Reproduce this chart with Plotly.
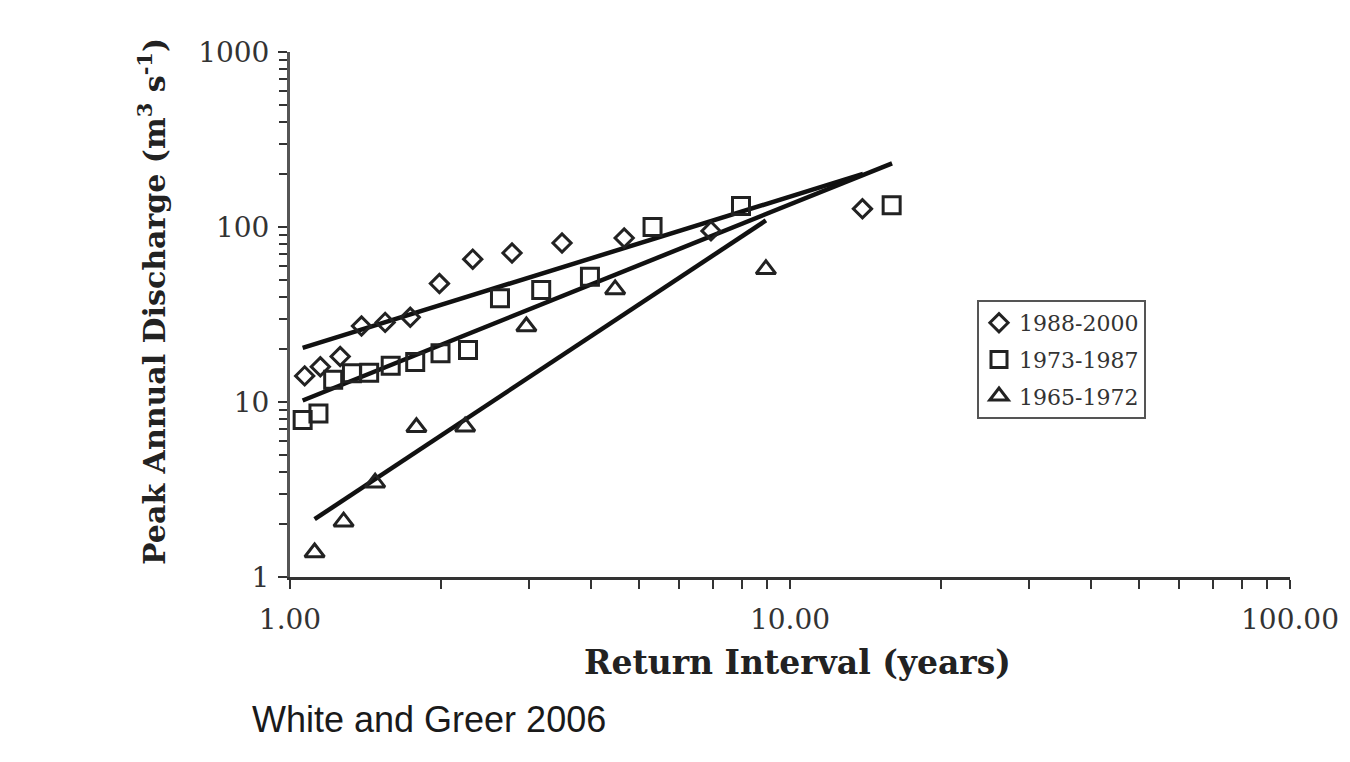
import plotly.graph_objects as go

# Return interval (years) and peak annual discharge (m3/s) by period
ri_1988_2000 = [1.07, 1.15, 1.26, 1.39, 1.55, 1.74, 1.99, 2.32, 2.78, 3.50, 4.66, 6.95, 13.96]
q_1988_2000 = [14.1, 15.9, 18.2, 27.2, 28.5, 30.5, 47.5, 65.5, 71.0, 81.0, 86.5, 95.0, 127.0]

ri_1973_1987 = [1.06, 1.14, 1.22, 1.33, 1.44, 1.59, 1.78, 2.00, 2.27, 2.63, 3.18, 3.98, 5.31, 7.98, 15.97]
q_1973_1987 = [7.9, 8.6, 13.4, 14.6, 14.7, 16.1, 16.9, 19.0, 19.8, 39.1, 43.6, 52.0, 100.0, 132.0, 133.0]

ri_1965_1972 = [1.12, 1.28, 1.48, 1.79, 2.24, 2.97, 4.47, 8.95]
q_1965_1972 = [1.38, 2.07, 3.46, 7.17, 7.23, 27.0, 44.0, 57.3]

# Power-law trend line end points for each period
fit_ri_1988_2000 = [1.06, 14.0]
fit_q_1988_2000 = [20.4, 201.0]
fit_ri_1973_1987 = [1.06, 16.0]
fit_q_1973_1987 = [10.2, 231.0]
fit_ri_1965_1972 = [1.12, 8.95]
fit_q_1965_1972 = [2.14, 109.0]

x_tick_vals = [1, 10, 100]
x_tick_text = ["1.00", "10.00", "100.00"]
y_tick_vals = [1, 10, 100, 1000]
y_tick_text = ["1", "10", "100", "1000"]

INK = "#222222"
SERIF = "DejaVu Serif"

fig = go.Figure()

for fx, fy in [(fit_ri_1988_2000, fit_q_1988_2000),
               (fit_ri_1973_1987, fit_q_1973_1987),
               (fit_ri_1965_1972, fit_q_1965_1972)]:
    fig.add_trace(go.Scatter(x=fx, y=fy, mode="lines",
                             line=dict(color="#111111", width=4.5),
                             showlegend=False, hoverinfo="skip"))

fig.add_trace(go.Scatter(x=ri_1988_2000, y=q_1988_2000, mode="markers", name="1988-2000",
                         legendgroup="a",
                         marker=dict(symbol="diamond-open", size=14, color=INK,
                                     line=dict(width=3, color=INK))))
fig.add_trace(go.Scatter(x=ri_1973_1987, y=q_1973_1987, mode="markers", name="1973-1987",
                         legendgroup="b",
                         marker=dict(symbol="square-open", size=17, color=INK,
                                     line=dict(width=3, color=INK))))
fig.add_trace(go.Scatter(x=ri_1965_1972, y=q_1965_1972, mode="markers", name="1965-1972",
                         legendgroup="c",
                         marker=dict(symbol="triangle-up-open", size=17, color=INK,
                                     line=dict(width=3, color=INK))))

minor_x = [2, 3, 4, 5, 6, 7, 8, 9, 20, 30, 40, 50, 60, 70, 80, 90]
minor_y = [m * d for d in (1, 10, 100) for m in range(2, 10)]

fig.update_xaxes(
    type="log", range=[0, 2], showgrid=False, zeroline=False,
    showline=True, linecolor="#333333", linewidth=3,
    tickmode="array", tickvals=x_tick_vals, ticktext=x_tick_text,
    ticks="outside", ticklen=9, tickwidth=2, tickcolor="#333333",
    ticklabelstandoff=6,
    tickfont=dict(family=SERIF, size=28, color="#333333"),
    minor=dict(tickmode="array", tickvals=minor_x, ticks="outside",
               ticklen=9, tickwidth=2, tickcolor="#333333", showgrid=False),
)
fig.update_yaxes(
    type="log", range=[0, 3], showgrid=False, zeroline=False,
    showline=True, linecolor="#555555", linewidth=3,
    tickmode="array", tickvals=y_tick_vals, ticktext=y_tick_text,
    ticks="outside", ticklen=9, tickwidth=2, tickcolor="#333333",
    ticklabelstandoff=3,
    tickfont=dict(family=SERIF, size=28, color="#333333"),
    minor=dict(tickmode="array", tickvals=minor_y, ticks="outside",
               ticklen=8, tickwidth=2, tickcolor="#333333", showgrid=False),
)

fig.add_annotation(text="<b>Return Interval (years)</b>", xref="paper", yref="paper",
                   x=0.507, y=-0.162, xanchor="center", yanchor="middle", showarrow=False,
                   font=dict(family=SERIF, size=33, color=INK))
fig.add_annotation(text="<b>Peak Annual Discharge (m<sup>3</sup> s<sup>-1</sup>)</b>",
                   xref="paper", yref="paper", x=-0.138, y=0.524,
                   xanchor="center", yanchor="middle", textangle=-90, showarrow=False,
                   font=dict(family=SERIF, size=30, color=INK))
fig.add_annotation(text="White and Greer 2006", xref="paper", yref="paper",
                   x=-0.04, y=-0.2705, xanchor="left", yanchor="middle", showarrow=False,
                   font=dict(family="Liberation Sans", size=36, color="#1a1a1a"))

fig.update_layout(
    width=1350, height=762,
    margin=dict(l=290, r=60, t=52, b=185),
    paper_bgcolor="white", plot_bgcolor="white",
    legend=dict(x=0.687, y=0.5276, xanchor="left", yanchor="top",
                bordercolor="#555555", borderwidth=2, bgcolor="white",
                font=dict(family=SERIF, size=22, color="#333333"),
                traceorder="grouped", tracegroupgap=5, itemwidth=30),
)

fig.write_html("out.html")
